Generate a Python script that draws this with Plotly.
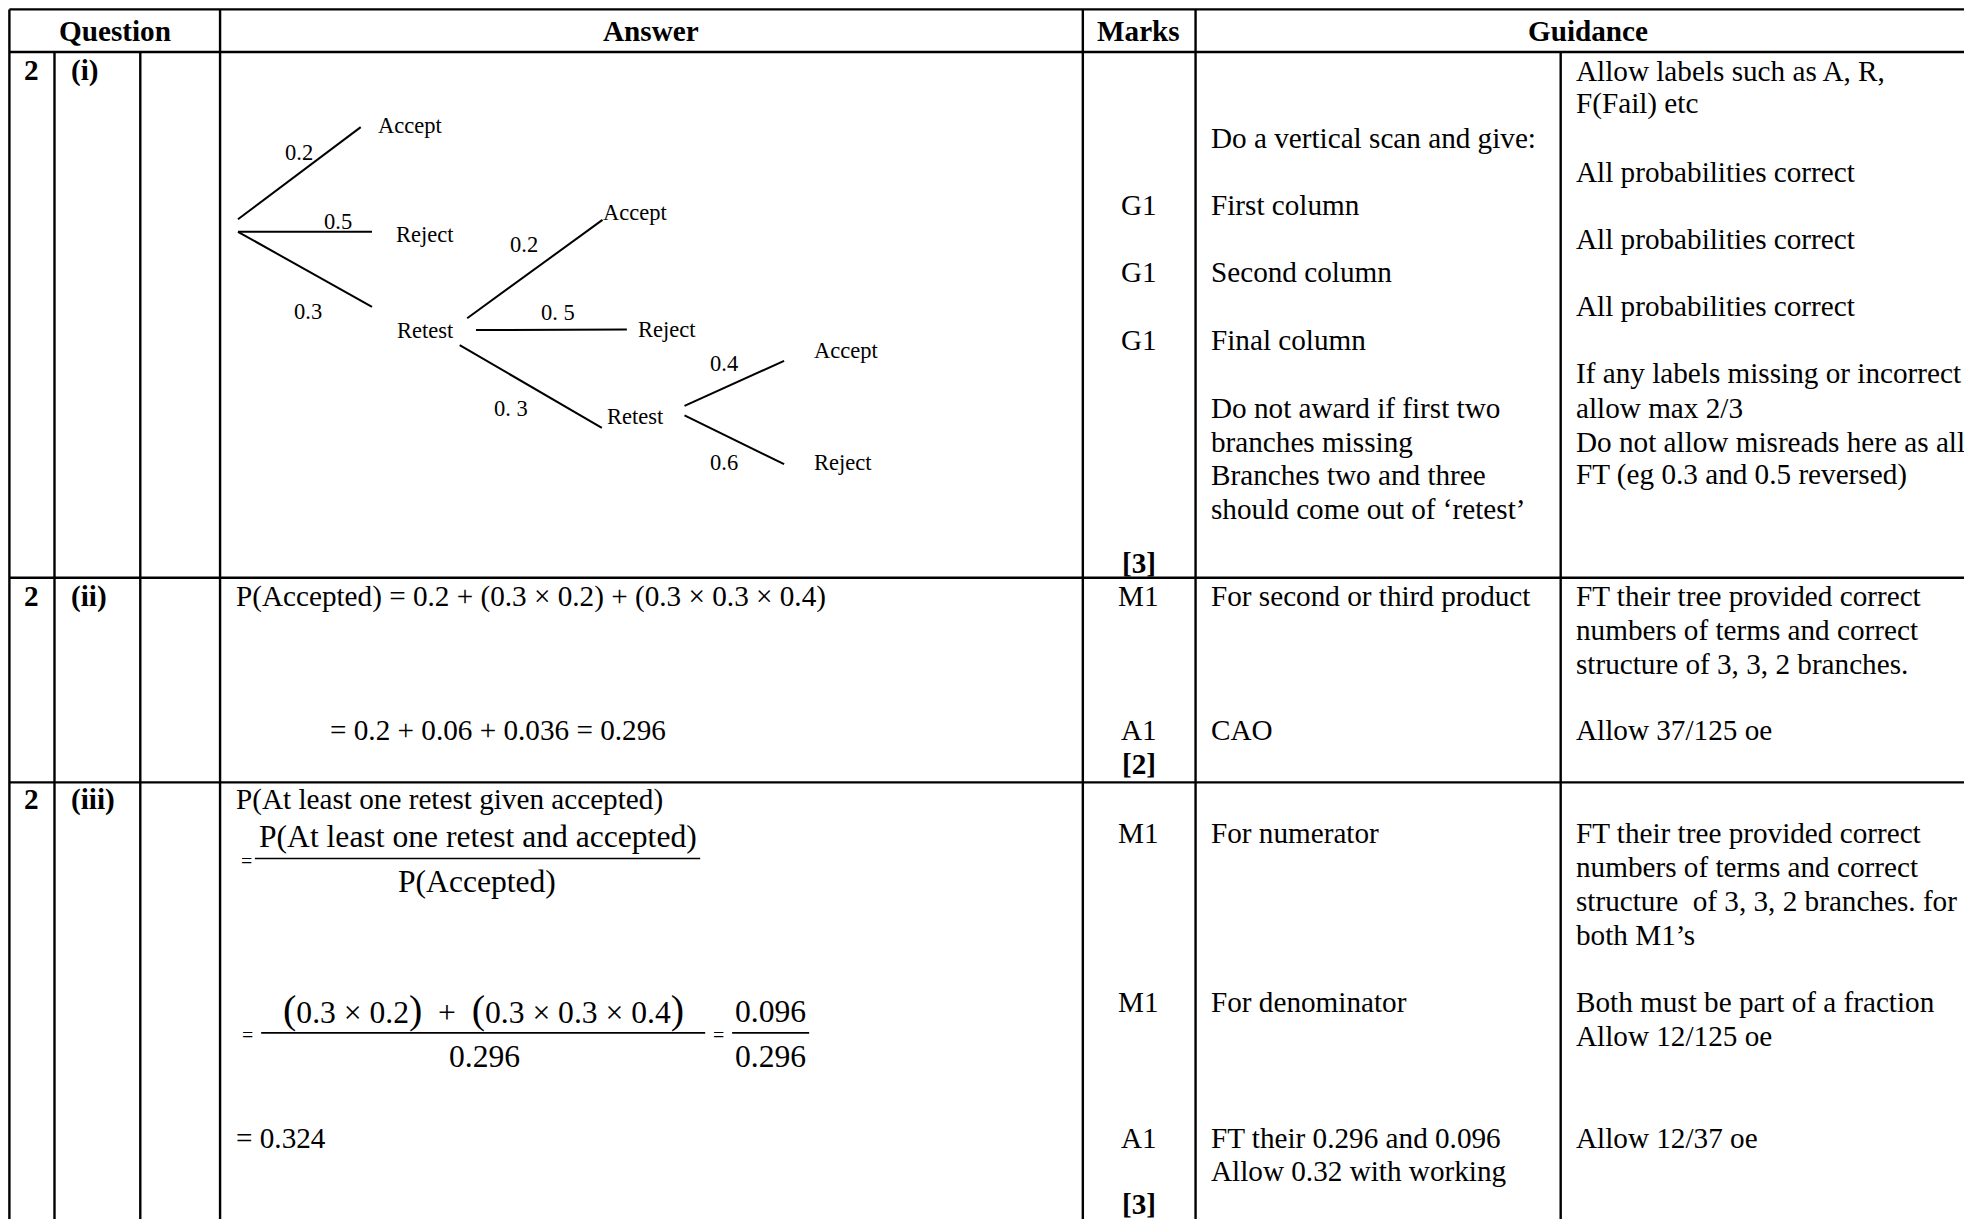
import plotly.graph_objects as go

# ---------------- data ----------------
header_labels = ["Question", "Answer", "Marks", "Guidance"]

# tree diagram: branch probabilities and outcome labels
stage1_probs = ["0.2", "0.5", "0.3"]
stage1_outcomes = ["Accept", "Reject", "Retest"]
stage2_probs = ["0.2", "0. 5", "0. 3"]
stage2_outcomes = ["Accept", "Reject", "Retest"]
stage3_probs = ["0.4", "0.6"]
stage3_outcomes = ["Accept", "Reject"]

q_numbers = ["2", "2", "2"]
q_parts = ["(i)", "(ii)", "(iii)"]

marks_row1 = ["G1", "G1", "G1", "[3]"]
marks_row2 = ["M1", "A1", "[2]"]
marks_row3 = ["M1", "M1", "A1", "[3]"]

guide1_row1 = ["Do a vertical scan and give:", "First column", "Second column", "Final column",
               "Do not award if first two", "branches missing", "Branches two and three",
               "should come out of \u2018retest\u2019"]
guide2_row1 = ["Allow labels such as A, R,", "F(Fail) etc", "All probabilities correct",
               "All probabilities correct", "All probabilities correct",
               "If any labels missing or incorrect", "allow max 2/3",
               "Do not allow misreads here as all", "FT (eg 0.3 and 0.5 reversed)"]
guide1_row2 = ["For second or third product", "CAO"]
guide2_row2 = ["FT their tree provided correct", "numbers of terms and correct",
               "structure of 3, 3, 2 branches.", "Allow 37/125 oe"]
guide1_row3 = ["For numerator", "For denominator", "FT their 0.296 and 0.096", "Allow 0.32 with working"]
guide2_row3 = ["FT their tree provided correct", "numbers of terms and correct",
               "structure  of 3, 3, 2 branches. for", "both M1\u2019s",
               "Both must be part of a fraction", "Allow 12/125 oe", "Allow 12/37 oe"]

answer_row2 = ["P(Accepted) = 0.2 + (0.3 \u00d7 0.2) + (0.3 \u00d7 0.3 \u00d7 0.4)",
               "= 0.2 + 0.06 + 0.036 = 0.296"]
answer_row3_intro = "P(At least one retest given accepted)"
frac1 = ("P(At least one retest and accepted)", "P(Accepted)")
frac2_num_terms = ["0.3 \u00d7 0.2", "0.3 \u00d7 0.3 \u00d7 0.4"]
frac2_den = "0.296"
frac3 = ("0.096", "0.296")
answer_row3_final = "= 0.324"

# ---------------- layout (positions, view units 1568 x 973) ----------------
W, H = 1568, 973
SERIF = "Liberation Serif, Times New Roman, serif"
FS = 29.2      # body text px
FS_TREE = 22.5
FS_FRAC = 31.6
LW = 2.4

fig = go.Figure()
annotations = []
shapes = []


def txt(x, y, s, size=FS, anchor="left", bold=False):
    if bold:
        s = "<b>" + s + "</b>"
    annotations.append(dict(x=x, y=y, xref="x", yref="y", text=s, showarrow=False,
                            xanchor=anchor, yanchor="middle", borderpad=0,
                            font=dict(family=SERIF, size=size, color="black")))


def hline(y, x0, x1, w=LW):
    shapes.append(dict(type="line", xref="x", yref="y", x0=x0, x1=x1, y0=y, y1=y,
                       line=dict(color="black", width=w)))


def vline(x, y0, y1, w=LW):
    shapes.append(dict(type="line", xref="x", yref="y", x0=x, x1=x, y0=y0, y1=y1,
                       line=dict(color="black", width=w)))


# table grid
top, head_b, row1_b, row2_b = 7.5, 41.5, 461.2, 624.5
col = dict(left=7.5, c1=43.5, c2=112.0, ans=175.7, marks=864.5, guide=954.5, split=1246.0)
XR = W + 20
hline(top, col["left"], XR)
hline(head_b, col["left"], XR)
hline(row1_b, col["left"], XR)
hline(row2_b, col["left"], XR)
for k in ["left", "ans", "marks", "guide"]:
    vline(col[k], top, H + 20)
for k in ["c1", "c2", "split"]:
    vline(col[k], head_b, H + 20)

# header
header_x = [92, 519.5, 909, 1268]
for lab, hx in zip(header_labels, header_x):
    txt(hx, 25, lab, anchor="center", bold=True)

# question numbers
row_y = [56, 476, 638]
for qn, qp, ry in zip(q_numbers, q_parts, row_y):
    txt(25.5, ry, qn, anchor="center", bold=True)
    txt(55.5, ry, qp, bold=True)

# ---- tree diagram ----
tree_lines = [
    # stage 1
    ((190, 175), (288, 101.5)), ((190, 185), (297, 185)), ((190, 185), (297, 245)),
    # stage 2
    ((373, 254), (481, 175.5)), ((380, 263.5), (500.5, 263)), ((367, 275.5), (480.5, 341.5)),
    # stage 3
    ((546.5, 324), (626, 288)), ((546.5, 331.5), (626, 370.5)),
]
prob_pos = [(238.5, 122), (269.5, 176.5), (245.5, 249),
            (418, 195.5), (445.5, 249.5), (408, 326),
            (578, 290.5), (578, 369.5)]
outcome_pos = [(301, 100.5, "left"), (315, 187, "left"), (339.5, 263.5, "center"),
               (480.5, 169.5, "left"), (508.5, 263, "left"), (507.5, 332.5, "center"),
               (649, 279.5, "left"), (649, 369, "left")]
all_probs = stage1_probs + stage2_probs + stage3_probs
all_outcomes = stage1_outcomes + stage2_outcomes + stage3_outcomes

for (p0, p1) in tree_lines:
    fig.add_trace(go.Scatter(x=[p0[0], p1[0]], y=[p0[1], p1[1]], mode="lines",
                             line=dict(color="black", width=2.0), hoverinfo="skip",
                             showlegend=False))
for p, (px, py) in zip(all_probs, prob_pos):
    txt(px, py, p, size=FS_TREE, anchor="center")
for o, (ox, oy, an) in zip(all_outcomes, outcome_pos):
    txt(ox, oy, o, size=FS_TREE, anchor=an)

# ---- marks column ----
mx = 909
for m, my in zip(marks_row1, [164, 217.5, 271, 449]):
    txt(mx, my, m, anchor="center", bold=m.startswith("["))
for m, my in zip(marks_row2, [476, 583, 610]):
    txt(mx, my, m, anchor="center", bold=m.startswith("["))
for m, my in zip(marks_row3, [665, 800, 908, 961]):
    txt(mx, my, m, anchor="center", bold=m.startswith("["))

# ---- guidance ----
g1x, g2x = 966, 1257.5
for s, gy in zip(guide1_row1, [110, 164, 217.5, 271, 325.5, 352.5, 379, 406]):
    txt(g1x, gy, s)
for s, gy in zip(guide2_row1, [56.5, 83, 137, 190.5, 244, 298, 325.5, 352.5, 379]):
    txt(g2x, gy, s)
for s, gy in zip(guide1_row2, [476, 583]):
    txt(g1x, gy, s)
for s, gy in zip(guide2_row2, [476, 503, 530, 583]):
    txt(g2x, gy, s)
for s, gy in zip(guide1_row3, [665, 800, 908, 934.5]):
    txt(g1x, gy, s)
for s, gy in zip(guide2_row3, [665, 692, 719, 746, 800, 827, 908]):
    txt(g2x, gy, s)

# ---- answers ----
txt(187.5, 476, answer_row2[0])
txt(262.5, 583, answer_row2[1])
txt(187.5, 638.5, answer_row3_intro)

# fraction 1
txt(192, 687, "=", size=20)
txt(382, 668, frac1[0], size=FS_FRAC, anchor="center")
hline(685.2, 203.5, 559, w=1.6)
txt(381, 704, frac1[1], size=FS_FRAC, anchor="center")

# fraction 2
big = "<span style='font-size:40px'>%s</span>"
num2 = (big % "(") + frac2_num_terms[0] + (big % ")") + "  +  " + (big % "(") + \
    frac2_num_terms[1] + (big % ")")
txt(192.5, 826.5, "=", size=20)
txt(386, 806, num2, size=FS_FRAC, anchor="center")
hline(824.4, 208.5, 563, w=1.6)
txt(387, 843.5, frac2_den, size=FS_FRAC, anchor="center")
txt(574, 826.5, "=", size=20, anchor="center")
txt(615, 807.5, frac3[0], size=FS_FRAC, anchor="center")
hline(824.4, 584.5, 646, w=1.6)
txt(615, 843.5, frac3[1], size=FS_FRAC, anchor="center")

txt(187.5, 908.5, answer_row3_final)

fig.update_layout(
    width=1964, height=1219,
    margin=dict(l=0, r=0, t=0, b=0),
    paper_bgcolor="white", plot_bgcolor="white",
    xaxis=dict(range=[0, W], visible=False, fixedrange=True),
    yaxis=dict(range=[H, 0], visible=False, fixedrange=True),
    annotations=annotations, shapes=shapes, showlegend=False,
)
fig.write_html("out.html", config={"displayModeBar": False},
               post_script="document.body.style.margin='0';document.body.style.overflow='hidden';")
